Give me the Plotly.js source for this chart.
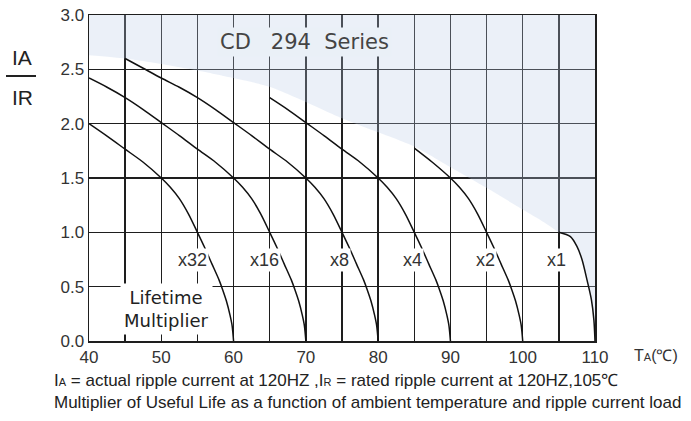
<!DOCTYPE html>
<html>
<head>
<meta charset="utf-8">
<script src="https://cdn.plot.ly/plotly-3.0.1.min.js"></script>
<style>html,body{margin:0;padding:0;background:#fff;}#chart{width:691px;height:421px;}</style>
</head>
<body>
<div id="chart"></div>
<script>
// ---- data ----
const xRange = [40, 110];
const yRange = [0, 3];

// curve: Lifetime x32
const t32 = [40, 42.5, 45, 47.5, 50, 51.25, 52.5, 53.75, 55, 56, 57, 58, 58.5, 59, 59.5, 59.8, 60];
const i32 = [2.0, 1.885, 1.765, 1.645, 1.5, 1.415, 1.31, 1.17, 1.0, 0.86, 0.71, 0.56, 0.47, 0.37, 0.24, 0.14, 0];
// x16
const t16 = [40, 42.5, 45, 47.5, 50, 52.5, 55, 57.5, 60, 61.25, 62.5, 63.75, 65, 66, 67, 68, 68.5, 69, 69.5, 69.8, 70];
const i16 = [2.42, 2.335, 2.24, 2.13, 2.01, 1.89, 1.765, 1.645, 1.5, 1.415, 1.31, 1.17, 1.0, 0.86, 0.71, 0.56, 0.47, 0.37, 0.24, 0.14, 0];
// x8
const t8 = [45, 47.5, 50, 52.5, 55, 57.5, 60, 62.5, 65, 67.5, 70, 71.25, 72.5, 73.75, 75, 76, 77, 78, 78.5, 79, 79.5, 79.8, 80];
const i8 = [2.6, 2.51, 2.42, 2.335, 2.24, 2.13, 2.01, 1.89, 1.765, 1.645, 1.5, 1.415, 1.31, 1.17, 1.0, 0.86, 0.71, 0.56, 0.47, 0.37, 0.24, 0.14, 0];
// x4
const t4 = [65, 67.5, 70, 72.5, 75, 77.5, 80, 81.25, 82.5, 83.75, 85, 86, 87, 88, 88.5, 89, 89.5, 89.8, 90];
const i4 = [2.24, 2.13, 2.01, 1.89, 1.765, 1.645, 1.5, 1.415, 1.31, 1.17, 1.0, 0.86, 0.71, 0.56, 0.47, 0.37, 0.24, 0.14, 0];
// x2
const t2 = [85, 87.5, 90, 91.25, 92.5, 93.75, 95, 96, 97, 98, 98.5, 99, 99.5, 99.8, 100];
const i2 = [1.775, 1.645, 1.5, 1.415, 1.31, 1.17, 1.0, 0.86, 0.71, 0.56, 0.47, 0.37, 0.24, 0.14, 0];
// x1
const t1 = [105, 106.6, 107.5, 108.2, 108.9, 109.5, 109.85, 110];
const i1 = [1.0, 0.96, 0.87, 0.75, 0.56, 0.38, 0.19, 0];

// shaded (blue) region lower boundary
const shadeT = [40, 45, 50, 55, 60, 65, 70, 75, 80, 85, 90, 95, 100, 103, 105, 106.6, 107.5, 108.2, 108.9, 109.5, 109.85, 110];
const shadeI = [2.63, 2.60, 2.55, 2.49, 2.42, 2.34, 2.2, 2.05, 1.92, 1.79, 1.60, 1.41, 1.21, 1.09, 1.0, 0.96, 0.87, 0.75, 0.56, 0.38, 0.19, 0];

const curveLabels = ['x32', 'x16', 'x8', 'x4', 'x2', 'x1'];
const labelT = [54.3, 64.3, 74.6, 84.8, 94.8, 104.7];
const labelI = [0.75, 0.75, 0.75, 0.75, 0.75, 0.75];

const xTicks = [40, 50, 60, 70, 80, 90, 100, 110];
const yTicks = [0, 0.5, 1.0, 1.5, 2.0, 2.5, 3.0];

const seriesTitle = 'CD&nbsp;&nbsp;&nbsp;294&nbsp;&nbsp;Series';
const footnote1 = 'I<span style="font-size:11px">A</span> = actual ripple current at 120HZ ,I<span style="font-size:11px">R</span> = rated ripple current at 120HZ,105℃';
const footnote2 = 'Multiplier of Useful Life as a function of ambient temperature and ripple current load';

// ---- drawing ----
const narrow = 'Liberation Sans Narrow, Arial Narrow, Liberation Sans, Arial, sans-serif';
const sans = 'Liberation Sans, Arial, sans-serif';
const txt = '#333333';
const grid = '#1e1e1e';

const curveStyle = {color: '#111', width: 1.5, shape: 'spline', smoothing: 0.8};
const curves = [[t32, i32], [t16, i16], [t8, i8], [t4, i4], [t2, i2], [t1, i1]];

const traces = [{
  x: shadeT.concat([xRange[1], xRange[0]]),
  y: shadeI.concat([yRange[1], yRange[1]]),
  mode: 'lines', fill: 'toself', fillcolor: 'rgba(186,205,230,0.29)',
  line: {width: 0, shape: 'spline', smoothing: 0.6}, hoverinfo: 'skip', showlegend: false
}];
curves.forEach(c => traces.push({x: c[0], y: c[1], mode: 'lines', line: curveStyle, showlegend: false, hoverinfo: 'skip'}));

const annotations = [];
curveLabels.forEach((l, k) => annotations.push({
  x: labelT[k], y: labelI[k], xref: 'x', yref: 'y', text: l, showarrow: false,
  font: {family: narrow, size: 18, color: txt}, bgcolor: '#ffffff', borderpad: 1
}));
annotations.push({x: 69.8, y: 2.75, xref: 'x', yref: 'y', text: seriesTitle, showarrow: false,
  font: {family: 'DejaVu Sans, Verdana, sans-serif', size: 21, color: '#444'}, bgcolor: '#eaf0f7', borderpad: 2});
annotations.push({x: 50.7, y: 0.29, xref: 'x', yref: 'y', text: 'Lifetime<br>Multiplier', showarrow: false,
  font: {family: 'DejaVu Sans, Verdana, sans-serif', size: 18, color: '#222'}, bgcolor: '#ffffff', borderpad: 3});
// paper-pixel annotations
const px = [
  {x: 22, y: 57, text: 'IA', xa: 'center', f: {family: sans, size: 21, color: '#222'}},
  {x: 22, y: 98, text: 'IR', xa: 'center', f: {family: sans, size: 21, color: '#222'}},
  {x: 632, y: 355, text: 'T<span style="font-size:11px">A</span>(℃)', xa: 'left', f: {family: narrow, size: 16, color: txt}},
  {x: 52, y: 380, text: footnote1, xa: 'left', f: {family: narrow, size: 17, color: '#222'}},
  {x: 52, y: 402, text: footnote2, xa: 'left', f: {family: narrow, size: 17, color: '#222'}}
];

const W = 691, H = 421, mL = 89, mR = 96, mT = 15, mB = 80;
const pw = W - mL - mR, ph = H - mT - mB;
px.forEach(a => annotations.push({
  x: (a.x - mL) / pw, y: 1 - (a.y - mT) / ph, xref: 'paper', yref: 'paper',
  xanchor: a.xa, yanchor: 'middle', text: a.text, showarrow: false, font: a.f
}));

const layout = {
  width: W, height: H,
  margin: {l: mL, r: mR, t: mT, b: mB},
  paper_bgcolor: '#fff', plot_bgcolor: '#fff',
  showlegend: false,
  xaxis: {
    range: xRange, tickvals: xTicks, ticks: '', showgrid: true, gridcolor: grid, gridwidth: 1.5,
    minor: {dtick: 5, showgrid: true, gridcolor: grid, gridwidth: 1.5},
    showline: true, mirror: true, linecolor: grid, linewidth: 1.5, zeroline: false,
    tickfont: {family: sans, size: 17, color: txt}, fixedrange: true
  },
  yaxis: {
    range: yRange, tickvals: yTicks, tickformat: '.1f', ticks: '', showgrid: true, gridcolor: grid, gridwidth: 1.5,
    showline: true, mirror: true, linecolor: grid, linewidth: 1.5, zeroline: false,
    tickfont: {family: sans, size: 17, color: txt}, fixedrange: true
  },
  shapes: [{type: 'line', xref: 'paper', yref: 'paper', x0: (6 - mL) / pw, x1: (36 - mL) / pw,
    y0: 1 - (76 - mT) / ph, y1: 1 - (76 - mT) / ph, line: {color: '#222', width: 2}}],
  annotations: annotations
};

Plotly.newPlot('chart', traces, layout, {staticPlot: true, displayModeBar: false});
</script>
</body>
</html>
